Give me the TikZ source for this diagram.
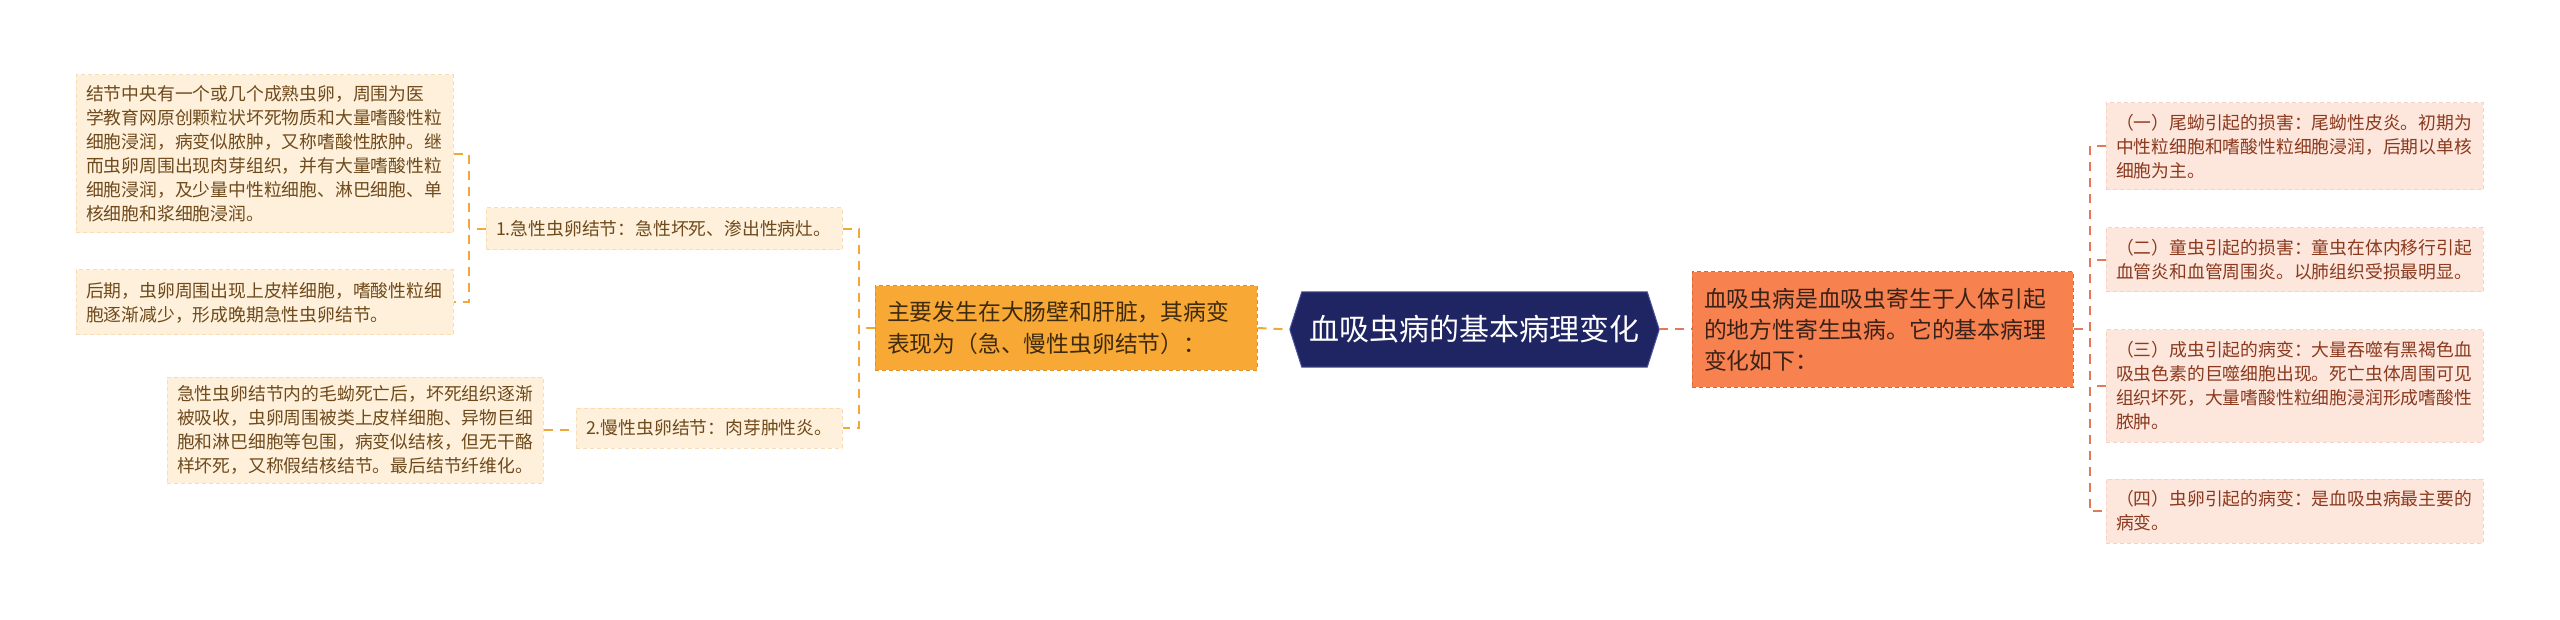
\documentclass[tikz,border=0pt]{standalone}
\usepackage{fontspec}
\setmainfont{Noto Sans CJK SC}
\definecolor{lfill}{HTML}{FEF0DA}
\definecolor{lline}{HTML}{F6DDB4}
\definecolor{ltext}{HTML}{6E4A1C}
\definecolor{mfill}{HTML}{F8A935}
\definecolor{mline}{HTML}{E38F22}
\definecolor{mtext}{HTML}{3E2A0E}
\definecolor{hfill}{HTML}{1F2463}
\definecolor{hline}{HTML}{4A509A}
\definecolor{rfill}{HTML}{F7814F}
\definecolor{rline}{HTML}{E0663A}
\definecolor{rtext}{HTML}{3B2218}
\definecolor{qfill}{HTML}{FDE6DC}
\definecolor{qline}{HTML}{F6D2C4}
\definecolor{qtext}{HTML}{8B3A1E}
\definecolor{conL}{HTML}{F0A838}
\definecolor{conR}{HTML}{E07B5A}
\tikzset{
  leafL/.style={fill=lfill, draw=lline, dash pattern=on 4pt off 3pt, line width=1pt, text=ltext,
    font=\fontsize{17.8}{24}\selectfont, align=left, inner xsep=10pt, inner ysep=0pt},
  midbox/.style={fill=mfill, draw=mline, dash pattern=on 4pt off 3pt, line width=1pt, text=mtext,
    font=\fontsize{22.8}{32}\selectfont, align=left, inner xsep=12pt, inner ysep=0pt},
  rbox/.style={fill=rfill, draw=rline, dash pattern=on 4pt off 3pt, line width=1pt, text=rtext,
    font=\fontsize{22.8}{31}\selectfont, align=left, inner xsep=12pt, inner ysep=0pt},
  leafR/.style={fill=qfill, draw=qline, dash pattern=on 4pt off 3pt, line width=1pt, text=qtext,
    font=\fontsize{17.8}{24}\selectfont, align=left, inner xsep=10pt, inner ysep=0pt},
  hexnode/.style={text=white, font=\fontsize{30}{36}\selectfont, inner sep=0pt,
    minimum width=369pt, minimum height=75pt},
  lconn/.style={draw=conL, line width=2pt, dash pattern=on 9pt off 7pt},
  rconn/.style={draw=conR, line width=2pt, dash pattern=on 9pt off 7pt},
}
\begin{document}
\begin{tikzpicture}[x=1pt, y=-1pt]
\useasboundingbox (0,0) rectangle (2560,620);
% left leaves
\node[leafL, text width=357pt, minimum height=158pt] (A) at (264.5,154)
 {结节中央有一个或几个成熟虫卵，周围为医\\学教育网原创颗粒状坏死物质和大量嗜酸性粒\\细胞浸润，病变似脓肿，又称嗜酸性脓肿。继\\而虫卵周围出现肉芽组织，并有大量嗜酸性粒\\细胞浸润，及少量中性粒细胞、淋巴细胞、单\\核细胞和浆细胞浸润。};
\node[leafL, text width=357pt, minimum height=65pt] (B) at (264.5,302.5)
 {后期，虫卵周围出现上皮样细胞，嗜酸性粒细\\胞逐渐减少，形成晚期急性虫卵结节。};
\node[leafL, text width=356pt, minimum height=106pt] (C) at (355,430)
 {急性虫卵结节内的毛蚴死亡后，坏死组织逐渐\\被吸收，虫卵周围被类上皮样细胞、异物巨细\\胞和淋巴细胞等包围，病变似结核，但无干酪\\样坏死，又称假结核结节。最后结节纤维化。};
\node[leafL, text width=336pt, minimum height=42pt] (N1) at (664,229)
 {1.急性虫卵结节：急性坏死、渗出性病灶。};
\node[leafL, text width=246pt, minimum height=40pt] (N2) at (709,428)
 {2.慢性虫卵结节：肉芽肿性炎。};
% main left
\node[midbox, text width=358pt, minimum height=84pt] (M) at (1066,328)
 {主要发生在大肠壁和肝脏，其病变\\表现为（急、慢性虫卵结节）：};
% hexagon root
\node[hexnode] (H) at (1474.5,329.5) {};
\fill[hfill] (H.west) -- ([xshift=12pt]H.north west) -- ([xshift=-12pt]H.north east) -- (H.east)
  -- ([xshift=-12pt]H.south east) -- ([xshift=12pt]H.south west) -- cycle;
\draw[hline, line width=1pt] (H.west) -- ([xshift=12pt]H.north west) -- ([xshift=-12pt]H.north east) -- (H.east)
  -- ([xshift=-12pt]H.south east) -- ([xshift=12pt]H.south west) -- cycle;
\node[hexnode] (Ht) at (H.center) {血吸虫病的基本病理变化};
% right main
\node[rbox, text width=357pt, minimum height=115pt] (R) at (1882.5,329.5)
 {血吸虫病是血吸虫寄生于人体引起\\的地方性寄生虫病。它的基本病理\\变化如下：};
% right leaves
\node[leafR, text width=357pt, minimum height=87pt] (R1) at (2294.5,146.5)
 {（一）尾蚴引起的损害：尾蚴性皮炎。初期为\\中性粒细胞和嗜酸性粒细胞浸润，后期以单核\\细胞为主。};
\node[leafR, text width=357pt, minimum height=64pt] (R2) at (2294.5,260)
 {（二）童虫引起的损害：童虫在体内移行引起\\血管炎和血管周围炎。以肺组织受损最明显。};
\node[leafR, text width=357pt, minimum height=112pt] (R3) at (2294.5,386)
 {（三）成虫引起的病变：大量吞噬有黑褐色血\\吸虫色素的巨噬细胞出现。死亡虫体周围可见\\组织坏死，大量嗜酸性粒细胞浸润形成嗜酸性\\脓肿。};
\node[leafR, text width=357pt, minimum height=64pt] (R4) at (2294.5,511)
 {（四）虫卵引起的病变：是血吸虫病最主要的\\病变。};
% connectors left
\draw[lconn] (A.east) -- ++(15,0) coordinate (lt) -- (lt |- B.east) -- (B.east);
\draw[lconn] (N1.west) -- (lt |- N1.west);
\draw[lconn] (N1.east) -- ++(16,0) coordinate (mt) -- (mt |- N2.east) -- (N2.east);
\draw[lconn] (M.west) -- (mt |- M.west);
\draw[lconn] (C.east) -- (C.east -| N2.west);
\draw[lconn] (M.east) -- (H.west);
% connectors right
\draw[rconn] (H.east) -- (R.west);
\draw[rconn] (R1.west) -- ++(-16,0) coordinate (rt) -- (rt |- R4.west) -- (R4.west);
\draw[rconn] (R.east) -- (rt |- R.east);
\draw[rconn] (R2.west) -- (rt |- R2.west);
\draw[rconn] (R3.west) -- (rt |- R3.west);
\end{tikzpicture}
\end{document}
